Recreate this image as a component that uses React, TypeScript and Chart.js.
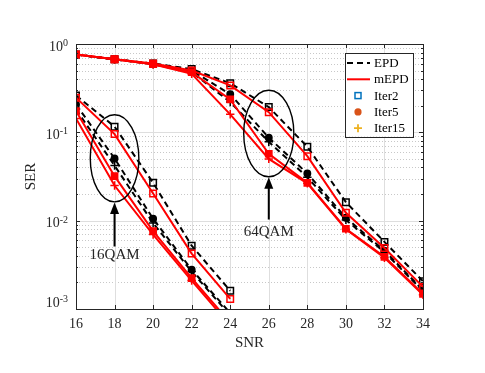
import { useEffect, useRef } from 'react';
import { Chart, registerables } from 'chart.js';

Chart.register(...registerables);

// ---------------- data ----------------
const snr16QAM = [16, 18, 20, 22, 24];
const snr64QAM = [16, 18, 20, 22, 24, 26, 28, 30, 32, 34];

const ser16EpdIter2 = [0.262, 0.116, 0.0268, 0.0052, 0.00161];
const ser16MepdIter2 = [0.247, 0.0955, 0.0203, 0.00424, 0.0013];
const ser16EpdIter5 = [0.207, 0.0506, 0.0105, 0.00279, 0.0009];
const ser16MepdIter5 = [0.174, 0.0319, 0.0076, 0.00224, 0.0007];
const ser16EpdIter15 = [0.182, 0.042, 0.0094, 0.00265, 0.00085];
const ser16MepdIter15 = [0.143, 0.025, 0.00695, 0.0021, 0.00065];

const ser64EpdIter2 = [0.76, 0.67, 0.6, 0.52, 0.36, 0.193, 0.0687, 0.0162, 0.00575, 0.00206];
const ser64MepdIter2 = [0.76, 0.67, 0.6, 0.5, 0.34, 0.169, 0.0537, 0.0123, 0.0049, 0.00178];
const ser64EpdIter5 = [0.76, 0.67, 0.6, 0.5, 0.27, 0.087, 0.0342, 0.0108, 0.00458, 0.00163];
const ser64MepdIter5 = [0.76, 0.67, 0.59, 0.48, 0.236, 0.0572, 0.0268, 0.0081, 0.0039, 0.00148];
const ser64EpdIter15 = [0.76, 0.67, 0.59, 0.48, 0.22, 0.078, 0.031, 0.0102, 0.0044, 0.0016];
const ser64MepdIter15 = [0.76, 0.67, 0.59, 0.46, 0.16, 0.05, 0.0265, 0.008, 0.0038, 0.00145];

const xTickValues = [16, 18, 20, 22, 24, 26, 28, 30, 32, 34];
const yDecadeValues = [0.001, 0.01, 0.1, 1];
const yTickExponents = ['-3', '-2', '-1', '0'];
const yMinorMultipliers = [2, 3, 4, 5, 6, 7, 8, 9];

const legendLabels = ['EPD', 'mEPD', 'Iter2', 'Iter5', 'Iter15'];

const annotationLabels = ['16QAM', '64QAM'];
const annotationSnr = [18, 26];
const ellipseHalfWidthSnr = [1.26, 1.3];
const ellipseTopSer = [0.158, 0.3];
const ellipseBottomSer = [0.0163, 0.0314];
const arrowTailSer = [0.0051, 0.0103];
const annotationTextSer = [0.0041, 0.0074];

// ---------------- styles ----------------
const FONT = "'Liberation Serif', 'Times New Roman', serif";
const AXIS_COLOR = '#262626';
const RED = '#ff0000';
const BLACK = '#000000';
const LEG_BLUE = '#0072BD';
const LEG_ORANGE = '#D95319';
const LEG_YELLOW = '#EDB120';

type Marker = 'hollowRect' | 'filledCircle' | 'filledRect' | 'plus';

function makeDataset(label: string, xs: number[], ys: number[], color: string, dashed: boolean, marker: Marker) {
  let pointStyle = 'rect';
  let radius = 4.6;
  let bg = 'rgba(0,0,0,0)';
  if (marker === 'filledCircle') { pointStyle = 'circle'; radius = 3.2; bg = color; }
  if (marker === 'filledRect') { pointStyle = 'rect'; radius = 4.4; bg = color; }
  if (marker === 'plus') { pointStyle = 'cross'; radius = 4.2; }
  return {
    label,
    data: xs.map((x, i) => ({ x, y: ys[i] })),
    borderColor: color,
    backgroundColor: color,
    borderWidth: 2,
    borderDash: dashed ? [6, 4] : [],
    pointStyle,
    pointRadius: radius,
    pointBorderColor: color,
    pointBackgroundColor: bg,
    pointBorderWidth: 1.5,
    tension: 0,
    fill: false,
  };
}

const gridPlugin = {
  id: 'matlabGrid',
  beforeDatasetsDraw(chart: any) {
    const { ctx, chartArea: a, scales } = chart;
    const xs = scales.x;
    const ys = scales.y;
    ctx.save();
    ctx.strokeStyle = '#c8c8c8';
    ctx.lineWidth = 1;
    ctx.setLineDash([1, 2]);
    for (let d = 0; d < yDecadeValues.length - 1; d++) {
      for (const m of yMinorMultipliers) {
        const py = Math.round(ys.getPixelForValue(yDecadeValues[d] * m)) + 0.5;
        ctx.beginPath();
        ctx.moveTo(a.left, py);
        ctx.lineTo(a.right, py);
        ctx.stroke();
      }
    }
    ctx.setLineDash([]);
    ctx.strokeStyle = '#dedede';
    for (const v of yDecadeValues) {
      const py = Math.round(ys.getPixelForValue(v)) + 0.5;
      ctx.beginPath();
      ctx.moveTo(a.left, py);
      ctx.lineTo(a.right, py);
      ctx.stroke();
    }
    for (const v of xTickValues) {
      const px = Math.round(xs.getPixelForValue(v)) + 0.5;
      ctx.beginPath();
      ctx.moveTo(px, a.top);
      ctx.lineTo(px, a.bottom);
      ctx.stroke();
    }
    ctx.restore();
  },
  afterDatasetsDraw(chart: any) {
    const { ctx, chartArea: a, scales } = chart;
    const xs = scales.x;
    const ys = scales.y;
    ctx.save();
    ctx.strokeStyle = AXIS_COLOR;
    ctx.lineWidth = 1;
    ctx.setLineDash([]);
    ctx.strokeRect(Math.round(a.left) + 0.5, Math.round(a.top) + 0.5, Math.round(a.right - a.left), Math.round(a.bottom - a.top));
    for (const v of xTickValues) {
      const px = Math.round(xs.getPixelForValue(v)) + 0.5;
      ctx.beginPath();
      ctx.moveTo(px, a.bottom); ctx.lineTo(px, a.bottom - 4);
      ctx.moveTo(px, a.top); ctx.lineTo(px, a.top + 4);
      ctx.stroke();
    }
    for (const v of yDecadeValues) {
      const py = Math.round(ys.getPixelForValue(v)) + 0.5;
      ctx.beginPath();
      ctx.moveTo(a.left, py); ctx.lineTo(a.left + 4, py);
      ctx.moveTo(a.right, py); ctx.lineTo(a.right - 4, py);
      ctx.stroke();
    }
    for (let d = 0; d < yDecadeValues.length - 1; d++) {
      for (const m of yMinorMultipliers) {
        const py = Math.round(ys.getPixelForValue(yDecadeValues[d] * m)) + 0.5;
        ctx.beginPath();
        ctx.moveTo(a.left, py); ctx.lineTo(a.left + 2, py);
        ctx.moveTo(a.right, py); ctx.lineTo(a.right - 2, py);
        ctx.stroke();
      }
    }
    ctx.fillStyle = AXIS_COLOR;
    ctx.textBaseline = 'alphabetic';
    const rightEdge = a.left - 8;
    yDecadeValues.forEach((v, i) => {
      let ty = ys.getPixelForValue(v);
      if (i === 0) ty -= 9;
      ctx.font = `10px ${FONT}`;
      const sup = yTickExponents[i];
      const supW = ctx.measureText(sup).width;
      ctx.textAlign = 'left';
      ctx.fillText(sup, rightEdge - supW, ty + 2);
      ctx.font = `14px ${FONT}`;
      ctx.textAlign = 'right';
      ctx.fillText('10', rightEdge - supW, ty + 6.5);
    });
    ctx.restore();

    // annotations
    ctx.save();
    ctx.strokeStyle = BLACK;
    ctx.fillStyle = BLACK;
    annotationLabels.forEach((label, i) => {
      const cx = xs.getPixelForValue(annotationSnr[i]);
      const rx = Math.abs(xs.getPixelForValue(annotationSnr[i] + ellipseHalfWidthSnr[i]) - cx);
      const top = ys.getPixelForValue(ellipseTopSer[i]);
      const bottom = ys.getPixelForValue(ellipseBottomSer[i]);
      ctx.lineWidth = 1.4;
      ctx.beginPath();
      ctx.ellipse(cx, (top + bottom) / 2, rx, (bottom - top) / 2, 0, 0, Math.PI * 2);
      ctx.stroke();
      const tail = ys.getPixelForValue(arrowTailSer[i]);
      const headLen = 12;
      ctx.lineWidth = 2;
      ctx.beginPath();
      ctx.moveTo(cx, tail);
      ctx.lineTo(cx, bottom + headLen - 1);
      ctx.stroke();
      ctx.beginPath();
      ctx.moveTo(cx, bottom + 0.5);
      ctx.lineTo(cx - 4.5, bottom + headLen);
      ctx.lineTo(cx + 4.5, bottom + headLen);
      ctx.closePath();
      ctx.fill();
      ctx.font = `15px ${FONT}`;
      ctx.fillStyle = AXIS_COLOR;
      ctx.textAlign = 'center';
      ctx.textBaseline = 'middle';
      ctx.fillText(label, cx, ys.getPixelForValue(annotationTextSer[i]));
      ctx.fillStyle = BLACK;
    });
    ctx.restore();

    // legend
    ctx.save();
    const boxRight = a.right - 10;
    const boxLeft = boxRight - 68;
    const boxTop = a.top + 9;
    const step = 16.3;
    const boxBottom = boxTop + step * legendLabels.length + 2;
    ctx.fillStyle = '#ffffff';
    ctx.fillRect(boxLeft, boxTop, boxRight - boxLeft, boxBottom - boxTop);
    ctx.strokeStyle = AXIS_COLOR;
    ctx.lineWidth = 1;
    ctx.strokeRect(Math.round(boxLeft) + 0.5, Math.round(boxTop) + 0.5, Math.round(boxRight - boxLeft), Math.round(boxBottom - boxTop));
    const symX = boxLeft + 13;
    legendLabels.forEach((label, i) => {
      const y = boxTop + 10 + step * i;
      if (i === 0 || i === 1) {
        ctx.strokeStyle = i === 0 ? BLACK : RED;
        ctx.lineWidth = 2;
        ctx.setLineDash(i === 0 ? [6, 4] : []);
        ctx.beginPath();
        ctx.moveTo(boxLeft + 2, y);
        ctx.lineTo(boxLeft + 25, y);
        ctx.stroke();
        ctx.setLineDash([]);
      } else if (i === 2) {
        ctx.strokeStyle = LEG_BLUE;
        ctx.lineWidth = 1.5;
        ctx.strokeRect(symX - 3, y - 3, 6, 6);
      } else if (i === 3) {
        ctx.fillStyle = LEG_ORANGE;
        ctx.beginPath();
        ctx.arc(symX, y, 3.6, 0, Math.PI * 2);
        ctx.fill();
      } else {
        ctx.strokeStyle = LEG_YELLOW;
        ctx.lineWidth = 1.8;
        ctx.beginPath();
        ctx.moveTo(symX - 4, y); ctx.lineTo(symX + 4, y);
        ctx.moveTo(symX, y - 4); ctx.lineTo(symX, y + 4);
        ctx.stroke();
      }
      ctx.fillStyle = BLACK;
      ctx.font = `13px ${FONT}`;
      ctx.textAlign = 'left';
      ctx.textBaseline = 'middle';
      ctx.fillText(label, boxLeft + 29, y + 0.5);
    });
    ctx.restore();
  },
};

export default function App() {
  const canvasRef = useRef<HTMLCanvasElement | null>(null);

  useEffect(() => {
    if (!canvasRef.current) return;
    // earlier datasets are drawn on top in Chart.js: red (mEPD) first
    const datasets = [
      makeDataset('mEPD Iter2 16QAM', snr16QAM, ser16MepdIter2, RED, false, 'hollowRect'),
      makeDataset('mEPD Iter5 16QAM', snr16QAM, ser16MepdIter5, RED, false, 'filledRect'),
      makeDataset('mEPD Iter15 16QAM', snr16QAM, ser16MepdIter15, RED, false, 'plus'),
      makeDataset('mEPD Iter2 64QAM', snr64QAM, ser64MepdIter2, RED, false, 'hollowRect'),
      makeDataset('mEPD Iter5 64QAM', snr64QAM, ser64MepdIter5, RED, false, 'filledRect'),
      makeDataset('mEPD Iter15 64QAM', snr64QAM, ser64MepdIter15, RED, false, 'plus'),
      makeDataset('EPD Iter2 16QAM', snr16QAM, ser16EpdIter2, BLACK, true, 'hollowRect'),
      makeDataset('EPD Iter5 16QAM', snr16QAM, ser16EpdIter5, BLACK, true, 'filledCircle'),
      makeDataset('EPD Iter15 16QAM', snr16QAM, ser16EpdIter15, BLACK, true, 'plus'),
      makeDataset('EPD Iter2 64QAM', snr64QAM, ser64EpdIter2, BLACK, true, 'hollowRect'),
      makeDataset('EPD Iter5 64QAM', snr64QAM, ser64EpdIter5, BLACK, true, 'filledCircle'),
      makeDataset('EPD Iter15 64QAM', snr64QAM, ser64EpdIter15, BLACK, true, 'plus'),
    ];
    const chart = new Chart(canvasRef.current, {
      type: 'line',
      data: { datasets: datasets as any },
      options: {
        responsive: false,
        animation: false,
        devicePixelRatio: 1,
        layout: { padding: { top: 44, right: 62, left: 0, bottom: 0 } },
        plugins: { legend: { display: false }, tooltip: { enabled: false } },
        scales: {
          x: {
            type: 'linear',
            min: 16,
            max: 34,
            afterFit: (s: any) => { s.height = 64; },
            grid: { display: false, drawTicks: false },
            border: { display: false },
            ticks: {
              stepSize: 2,
              autoSkip: false,
              maxRotation: 0,
              padding: 7,
              color: AXIS_COLOR,
              font: { family: FONT, size: 14 },
            },
            afterBuildTicks: (s: any) => { s.ticks = xTickValues.map((v) => ({ value: v })); },
            title: {
              display: true,
              text: 'SNR',
              color: AXIS_COLOR,
              font: { family: FONT, size: 15 },
              padding: { top: 0, bottom: 21 },
            },
          },
          y: {
            type: 'logarithmic',
            min: 0.001,
            max: 1,
            afterFit: (s: any) => { s.width = 76; },
            grid: { display: false, drawTicks: false },
            border: { display: false },
            ticks: { display: false },
            title: {
              display: true,
              text: 'SER',
              color: AXIS_COLOR,
              font: { family: FONT, size: 15 },
              padding: { top: 22, bottom: 0 },
            },
          },
        },
      },
      plugins: [gridPlugin],
    });
    return () => chart.destroy();
  }, []);

  return (
    <div style={{ position: 'fixed', left: 0, top: 0, width: 485, height: 373, background: '#ffffff' }}>
      <canvas ref={canvasRef} width={485} height={373} style={{ width: 485, height: 373, display: 'block' }} />
    </div>
  );
}
